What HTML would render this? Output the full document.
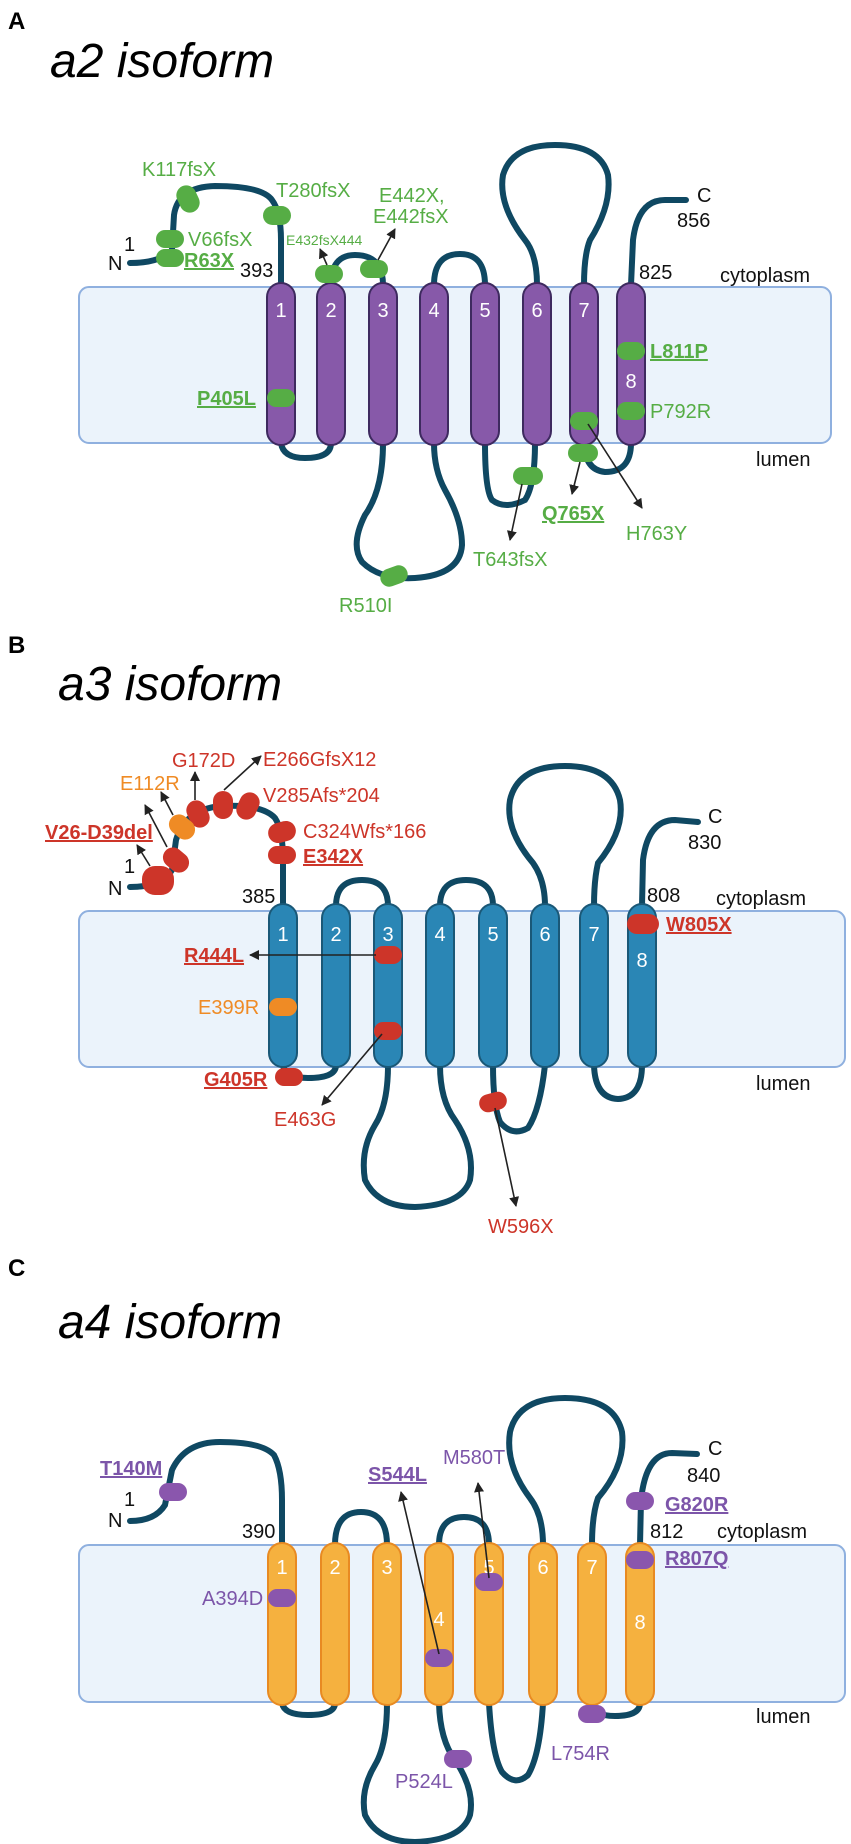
<!DOCTYPE html>
<html><head><meta charset="utf-8"><style>
html,body{margin:0;padding:0;background:#fff}
svg{display:block}
text{font-family:"Liberation Sans",sans-serif}
.t{font-size:20px}
.g{fill:#56ad45}.r{fill:#cd3529}.o{fill:#ef8b25}.p{fill:#7c55a9}
.b{font-weight:bold;text-decoration:underline}
.k{fill:#111;font-size:20px}
.num{fill:#fff;font-size:20px;text-anchor:middle}
.loop{fill:none;stroke:#0f4862;stroke-width:6;stroke-linecap:round}
.ar{stroke:#222;stroke-width:1.6;fill:none;marker-end:url(#ah)}
.ti{font-size:48px;font-style:italic}
</style></head><body>
<svg width="851" height="1844" viewBox="0 0 851 1844" xmlns="http://www.w3.org/2000/svg">
<defs><marker id="ah" markerWidth="10" markerHeight="10" refX="9" refY="5" orient="auto" markerUnits="userSpaceOnUse"><path d="M0,0 L10,5 L0,10 z" fill="#222"/></marker></defs>

<!-- ================= PANEL A ================= -->
<text x="8" y="29" font-size="24" font-weight="bold">A</text>
<text x="50" y="77" class="ti">a2 isoform</text>
<rect x="79" y="287" width="752" height="156" rx="10" fill="#ebf3fb" stroke="#8fb0df" stroke-width="2"/>
<g class="loop">
<path d="M130,263 Q160,263 172,250 L174,215 Q178,187 215,186 Q262,186 272,200 Q281,212 281,240 L281,285"/>
<path d="M331,285 Q331,255 355,255 Q383,255 383,285"/>
<path d="M434,285 Q434,254 460,254 Q485,254 485,285"/>
<path d="M537,285 Q537,255 525,240 Q498,205 503,175 Q512,145 555,145 Q600,145 608,175 Q612,205 590,240 Q584,255 584,285"/>
<path d="M631,285 L633,240 Q638,200 665,200 L686,200"/>
<path d="M281,443 Q283,458 305,458 Q331,458 331,443"/>
<path d="M383,443 Q383,490 365,515 Q350,545 362,562 Q380,580 415,578 Q460,575 462,545 Q462,520 445,490 Q434,470 434,443"/>
<path d="M485,443 Q485,490 492,500 Q505,510 525,500 Q535,485 535,443"/>
<path d="M584,443 Q585,470 605,472 Q631,472 631,443"/>
</g>
<g fill="#8759a9" stroke="#3e2a5f" stroke-width="2">
<rect x="267" y="283" width="28" height="162" rx="14"/><rect x="317" y="283" width="28" height="162" rx="14"/>
<rect x="369" y="283" width="28" height="162" rx="14"/><rect x="420" y="283" width="28" height="162" rx="14"/>
<rect x="471" y="283" width="28" height="162" rx="14"/><rect x="523" y="283" width="28" height="162" rx="14"/>
<rect x="570" y="283" width="28" height="162" rx="14"/><rect x="617" y="283" width="28" height="162" rx="14"/>
</g>
<g class="num"><text x="281" y="317">1</text><text x="331" y="317">2</text><text x="383" y="317">3</text><text x="434" y="317">4</text><text x="485" y="317">5</text><text x="537" y="317">6</text><text x="584" y="317">7</text><text x="631" y="388">8</text></g>
<g fill="#56ad45">
<rect x="178" y="185" width="20" height="28" rx="10" transform="rotate(-25 188 199)"/>
<rect x="263" y="206" width="28" height="19" rx="9.5"/>
<rect x="156" y="230" width="28" height="18" rx="9"/>
<rect x="156" y="249" width="28" height="18" rx="9"/>
<rect x="315" y="265" width="28" height="18" rx="9"/>
<rect x="360" y="260" width="28" height="18" rx="9"/>
<rect x="267" y="389" width="28" height="18" rx="9"/>
<rect x="617" y="342" width="28" height="18" rx="9"/>
<rect x="617" y="402" width="28" height="18" rx="9"/>
<rect x="570" y="412" width="28" height="18" rx="9"/>
<rect x="568" y="444" width="30" height="18" rx="9"/>
<rect x="513" y="467" width="30" height="18" rx="9"/>
<rect x="380" y="567" width="28" height="18" rx="9" transform="rotate(-20 394 576)"/>
</g>
<path class="ar" d="M327,265 L320,249"/><path class="ar" d="M378,260 L395,229"/>
<path class="ar" d="M588,424 L642,508"/><path class="ar" d="M580,462 L572,494"/><path class="ar" d="M522,484 L510,540"/>
<g class="t g">
<text x="142" y="176">K117fsX</text><text x="276" y="197">T280fsX</text>
<text x="188" y="246">V66fsX</text><text x="184" y="267" class="b">R63X</text>
<text x="286" y="245" font-size="14">E432fsX444</text>
<text x="379" y="202">E442X,</text><text x="373" y="223">E442fsX</text>
<text x="197" y="405" class="b">P405L</text>
<text x="650" y="358" class="b">L811P</text><text x="650" y="418">P792R</text>
<text x="542" y="520" class="b">Q765X</text><text x="626" y="540">H763Y</text>
<text x="473" y="566">T643fsX</text><text x="339" y="612">R510I</text>
</g>
<g class="k"><text x="108" y="270">N</text><text x="124" y="251">1</text><text x="240" y="277">393</text><text x="639" y="279">825</text><text x="697" y="202">C</text><text x="677" y="227">856</text><text x="720" y="282">cytoplasm</text><text x="756" y="466">lumen</text></g>

<!-- ================= PANEL B ================= -->
<text x="8" y="653" font-size="24" font-weight="bold">B</text>
<text x="58" y="700" class="ti">a3 isoform</text>
<rect x="79" y="911" width="766" height="156" rx="10" fill="#ebf3fb" stroke="#8fb0df" stroke-width="2"/>
<g class="loop">
<path d="M130,887 Q162,887 172,870 L176,840 Q185,810 220,806 Q262,804 275,818 Q283,830 283,860 L283,906"/>
<path d="M336,906 Q336,880 362,880 Q388,880 388,906"/>
<path d="M440,906 Q440,880 466,880 Q493,880 493,906"/>
<path d="M545,906 Q545,880 533,863 Q505,830 510,800 Q518,766 565,766 Q612,766 620,800 Q625,830 598,863 Q594,880 594,906"/>
<path d="M642,906 L643,860 Q648,820 675,820 L698,822"/>
<path d="M283,1065 Q285,1078 308,1078 Q336,1078 336,1065"/>
<path d="M388,1065 Q388,1105 375,1125 Q360,1150 365,1180 Q378,1207 415,1207 Q462,1205 470,1180 Q475,1150 455,1120 Q440,1100 440,1065"/>
<path d="M493,1065 Q493,1105 500,1122 Q512,1137 528,1128 Q540,1110 545,1065"/>
<path d="M594,1065 Q595,1098 618,1099 Q642,1098 642,1065"/>
</g>
<g fill="#2a86b5" stroke="#1a5877" stroke-width="2">
<rect x="269" y="904" width="28" height="163" rx="14"/><rect x="322" y="904" width="28" height="163" rx="14"/>
<rect x="374" y="904" width="28" height="163" rx="14"/><rect x="426" y="904" width="28" height="163" rx="14"/>
<rect x="479" y="904" width="28" height="163" rx="14"/><rect x="531" y="904" width="28" height="163" rx="14"/>
<rect x="580" y="904" width="28" height="163" rx="14"/><rect x="628" y="904" width="28" height="163" rx="14"/>
</g>
<g class="num"><text x="283" y="941">1</text><text x="336" y="941">2</text><text x="388" y="941">3</text><text x="440" y="941">4</text><text x="493" y="941">5</text><text x="545" y="941">6</text><text x="594" y="941">7</text><text x="642" y="967">8</text></g>
<g fill="#cd3529">
<rect x="142" y="866" width="32" height="29" rx="13"/>
<rect x="166" y="846" width="20" height="28" rx="10" transform="rotate(-50 176 860)"/>
<rect x="188" y="800" width="20" height="28" rx="10" transform="rotate(-25 198 814)"/>
<rect x="213" y="791" width="20" height="28" rx="10"/>
<rect x="238" y="792" width="20" height="28" rx="10" transform="rotate(25 248 806)"/>
<rect x="268" y="822" width="28" height="20" rx="10" transform="rotate(-15 282 832)"/>
<rect x="268" y="846" width="28" height="18" rx="9"/>
<rect x="374" y="946" width="28" height="18" rx="9"/>
<rect x="374" y="1022" width="28" height="18" rx="9"/>
<rect x="275" y="1068" width="28" height="18" rx="9"/>
<rect x="627" y="914" width="32" height="20" rx="10"/>
<rect x="479" y="1093" width="28" height="18" rx="9" transform="rotate(-15 493 1102)"/>
</g>
<rect x="172" y="813" width="20" height="28" rx="10" transform="rotate(-50 182 827)" fill="#ef8b25"/>
<rect x="269" y="998" width="28" height="18" rx="9" fill="#ef8b25"/>
<path class="ar" d="M150,866 L137,845"/><path class="ar" d="M167,847 L145,805"/><path class="ar" d="M173,815 L161,792"/>
<path class="ar" d="M195,800 L195,772"/><path class="ar" d="M224,790 L261,756"/>
<path class="ar" d="M376,955 L250,955"/><path class="ar" d="M382,1034 L322,1105"/><path class="ar" d="M495,1108 L516,1206"/>
<g class="t r">
<text x="45" y="839" class="b">V26-D39del</text>
<text x="172" y="767">G172D</text><text x="263" y="766">E266GfsX12</text>
<text x="263" y="802">V285Afs*204</text><text x="303" y="838">C324Wfs*166</text>
<text x="303" y="863" class="b">E342X</text>
<text x="184" y="962" class="b">R444L</text><text x="204" y="1086" class="b">G405R</text>
<text x="666" y="931" class="b">W805X</text><text x="274" y="1126">E463G</text><text x="488" y="1233">W596X</text>
</g>
<g class="t o"><text x="120" y="790">E112R</text><text x="198" y="1014">E399R</text></g>
<g class="k"><text x="108" y="895">N</text><text x="124" y="873">1</text><text x="242" y="903">385</text><text x="647" y="902">808</text><text x="708" y="823">C</text><text x="688" y="849">830</text><text x="716" y="905">cytoplasm</text><text x="756" y="1090">lumen</text></g>

<!-- ================= PANEL C ================= -->
<text x="8" y="1276" font-size="24" font-weight="bold">C</text>
<text x="58" y="1338" class="ti">a4 isoform</text>
<rect x="79" y="1545" width="766" height="157" rx="10" fill="#ebf3fb" stroke="#8fb0df" stroke-width="2"/>
<g class="loop">
<path d="M130,1521 Q155,1521 165,1505 L172,1470 Q185,1442 220,1442 Q262,1442 274,1455 Q282,1470 282,1500 L282,1545"/>
<path d="M335,1545 Q335,1512 361,1512 Q387,1512 387,1545"/>
<path d="M439,1545 Q439,1517 464,1517 Q489,1517 489,1545"/>
<path d="M543,1545 Q543,1515 530,1498 Q505,1465 510,1432 Q518,1398 565,1398 Q614,1398 622,1432 Q626,1465 598,1498 Q592,1515 592,1545"/>
<path d="M640,1545 L641,1500 Q646,1453 672,1453 L697,1454"/>
<path d="M282,1703 Q284,1715 308,1715 Q335,1715 335,1703"/>
<path d="M387,1703 Q387,1745 375,1765 Q360,1790 365,1815 Q378,1842 415,1842 Q462,1840 470,1815 Q475,1790 455,1760 Q440,1740 439,1703"/>
<path d="M489,1703 Q492,1755 502,1772 Q515,1787 528,1775 Q540,1755 543,1703"/>
<path d="M592,1703 Q593,1716 615,1716 Q640,1716 640,1703"/>
</g>
<g fill="#f5b13f" stroke="#e88a22" stroke-width="2">
<rect x="268" y="1543" width="28" height="162" rx="14"/><rect x="321" y="1543" width="28" height="162" rx="14"/>
<rect x="373" y="1543" width="28" height="162" rx="14"/><rect x="425" y="1543" width="28" height="162" rx="14"/>
<rect x="475" y="1543" width="28" height="162" rx="14"/><rect x="529" y="1543" width="28" height="162" rx="14"/>
<rect x="578" y="1543" width="28" height="162" rx="14"/><rect x="626" y="1543" width="28" height="162" rx="14"/>
</g>
<g class="num"><text x="282" y="1574">1</text><text x="335" y="1574">2</text><text x="387" y="1574">3</text><text x="439" y="1626">4</text><text x="489" y="1574">5</text><text x="543" y="1574">6</text><text x="592" y="1574">7</text><text x="640" y="1629">8</text></g>
<g fill="#8a56ad">
<rect x="159" y="1483" width="28" height="18" rx="9"/>
<rect x="268" y="1589" width="28" height="18" rx="9"/>
<rect x="425" y="1649" width="28" height="18" rx="9"/>
<rect x="475" y="1573" width="28" height="18" rx="9"/>
<rect x="444" y="1750" width="28" height="18" rx="9"/>
<rect x="578" y="1705" width="28" height="18" rx="9"/>
<rect x="626" y="1492" width="28" height="18" rx="9"/>
<rect x="626" y="1551" width="28" height="18" rx="9"/>
</g>
<path class="ar" d="M439,1654 L401,1492"/><path class="ar" d="M489,1578 L478,1483"/>
<g class="t p">
<text x="100" y="1475" class="b">T140M</text><text x="202" y="1605">A394D</text>
<text x="368" y="1481" class="b">S544L</text><text x="443" y="1464">M580T</text>
<text x="395" y="1788">P524L</text><text x="551" y="1760">L754R</text>
<text x="665" y="1511" class="b">G820R</text><text x="665" y="1565" class="b">R807Q</text>
</g>
<g class="k"><text x="108" y="1527">N</text><text x="124" y="1506">1</text><text x="242" y="1538">390</text><text x="650" y="1538">812</text><text x="708" y="1455">C</text><text x="687" y="1482">840</text><text x="717" y="1538">cytoplasm</text><text x="756" y="1723">lumen</text></g>
</svg>
</body></html>
